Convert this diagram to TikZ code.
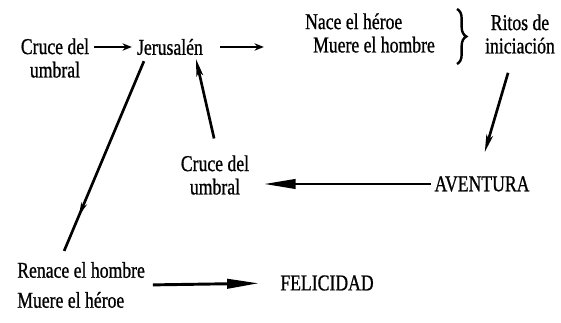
\documentclass[tikz,border=0pt]{standalone}
\usepackage{fontspec}
\setmainfont{Liberation Serif}[FakeStretch=0.78,FakeBold=0.8]
\usetikzlibrary{arrows.meta,decorations.pathreplacing,decorations.markings}

\tikzset{
  txt/.style={inner sep=0.75pt, align=center, font=\fontsize{17}{17.5}\selectfont},
  flecha/.style={line width=2pt, -{Stealth[length=7pt,width=5.5pt]}},
  flechagr/.style={line width=2.2pt, -{Triangle[length=24pt,width=7pt]}},
  flechadiag/.style={line width=2pt, -{Stealth[length=13pt,width=5pt,inset=3pt]}},
  raya/.style={line width=2pt},
}

\begin{document}
\begin{tikzpicture}[x=0.75pt,y=0.75pt,yscale=-1,xscale=1]
\path[use as bounding box] (0,0) rectangle (561,323);

% Text Node
\node[txt] (cruceA) at (55,58) {Cruce del\\umbral};
% Text Node
\node[txt] (jerus) at (170,47) {Jerusalén};
% Text Node
\node[txt, align=left] (nace) at (370,33) {Nace el héroe\\\hspace{6pt}Muere el hombre};
% Text Node
\node[txt] (ritos) at (520,34) {Ritos de\\iniciación};
% Text Node
\node[txt] (aventura) at (482,184) {AVENTURA};
% Text Node
\node[txt] (cruceB) at (215,175) {Cruce del\\umbral};
% Text Node
\node[txt, align=left, anchor=west, font=\fontsize{17}{22.5}\selectfont] (renace) at (16,285) {Renace el hombre\\Muere el héroe};
% Text Node
\node[txt] (felic) at (327,283) {FELICIDAD};

% Shape: Brace
\draw[decorate, decoration={brace, amplitude=7pt}, line width=1.8pt] (457,9) -- (457,64);

% Arrows
\draw[flecha, shorten <=3pt, shorten >=3pt] (cruceA.east |- jerus.west) -- (jerus.west);
\draw[flecha, shorten <=12pt, shorten >=30pt] (jerus.east) -- (nace.west |- jerus.east);
\draw[flechadiag, shorten <=14pt, shorten >=18pt] ([xshift=-5pt]ritos.south) -- ([xshift=-3pt]aventura.north);
\draw[flechagr, shorten <=2pt, shorten >=10pt] (aventura.west) -- (cruceB.east |- aventura.west);
\draw[flechadiag, shorten <=12pt, shorten >=2pt] ([xshift=2pt]cruceB.north) -- ([xshift=19pt]jerus.south);
\draw[raya, shorten <=4pt, shorten >=8pt,
  decoration={markings, mark=at position 0.78 with {\arrow{Stealth[length=10pt,width=4.5pt]}}},
  postaction={decorate}] ([xshift=-18pt]jerus.south) -- ([xshift=33pt]renace.north west);
\draw[flechagr, shorten <=5pt, shorten >=15pt] (renace.east) -- (felic.west);

\end{tikzpicture}
\end{document}
